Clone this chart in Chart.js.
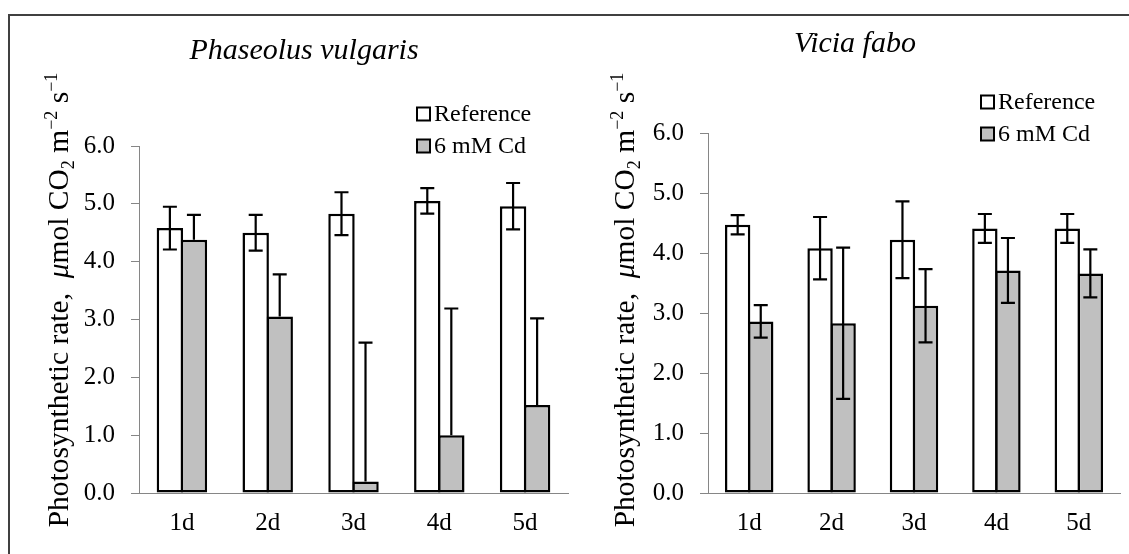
<!DOCTYPE html>
<html>
<head>
<meta charset="utf-8">
<script src="https://cdn.jsdelivr.net/npm/chart.js@4.4.0/dist/chart.umd.min.js"></script>
<style>
  body { margin: 0; background: #fff; }
  #wrap { position: relative; width: 1129px; height: 554px; overflow: hidden; background: #fff; }
  #frame { position: absolute; left: 8px; top: 14px; width: 1200px; height: 600px;
           border-top: 2px solid #404040; border-left: 2px solid #404040; }
  canvas { position: absolute; top: 0; }
</style>
</head>
<body>
<div id="wrap">
  <div id="frame"></div>
  <canvas id="graficoPhaseolus" width="572" height="554" style="left:0"></canvas>
  <canvas id="graficoVicia" width="565" height="554" style="left:564px"></canvas>
</div>
<script>
// valores
const dias = ['1d', '2d', '3d', '4d', '5d'];
const series = ['Reference', '6 mM Cd'];

const phaseolusRef = [4.58, 4.50, 4.83, 5.05, 4.96];
const phaseolusRefErr = [0.37, 0.31, 0.37, 0.22, 0.40];
const phaseolusCd = [4.38, 3.05, 0.20, 1.00, 1.52];
const phaseolusCdErr = [0.43, 0.73, 2.40, 2.19, 1.50];

const viciaRef = [4.47, 4.08, 4.22, 4.41, 4.41];
const viciaRefErr = [0.16, 0.52, 0.64, 0.24, 0.24];
const viciaCd = [2.86, 2.83, 3.12, 3.71, 3.66];
const viciaCdErr = [0.27, 1.26, 0.61, 0.54, 0.40];

const yMin = 0;
const yMax = 6;
const yPaso = 1;

const SERIF = "'Liberation Serif', 'Times New Roman', serif";

// titulo del eje y con subindices y superindices
const tituloEjeY = [
  { t: 'Photosynthetic rate,  ' },
  { t: 'μ', italic: true },
  { t: 'mol CO' },
  { t: '2', sub: true },
  { t: ' m' },
  { t: '−2', sup: true },
  { t: ' s' },
  { t: '−1', sup: true }
];

const errorBars = {
  id: 'errorBars',
  afterDatasetsDraw(chart) {
    const ctx = chart.ctx;
    const y = chart.scales.y;
    ctx.save();
    ctx.strokeStyle = '#000';
    ctx.lineWidth = 2.2;
    chart.data.datasets.forEach((ds, i) => {
      if (!ds.errores) return;
      const meta = chart.getDatasetMeta(i);
      meta.data.forEach((bar, j) => {
        const v = ds.data[j];
        const e = ds.errores[j];
        const arriba = y.getPixelForValue(v + e);
        const abajo = ds.soloPositivo ? y.getPixelForValue(v) : y.getPixelForValue(v - e);
        const x = bar.x;
        ctx.beginPath();
        ctx.moveTo(x, abajo);
        ctx.lineTo(x, arriba);
        ctx.moveTo(x - 7, arriba);
        ctx.lineTo(x + 7, arriba);
        if (!ds.soloPositivo) {
          ctx.moveTo(x - 7, abajo);
          ctx.lineTo(x + 7, abajo);
        }
        ctx.stroke();
      });
    });
    ctx.restore();
  }
};

const textos = {
  id: 'textos',
  afterDraw(chart, args, opts) {
    const ctx = chart.ctx;
    ctx.save();
    ctx.fillStyle = '#000';

    // titulo en cursiva
    ctx.font = 'italic 30px ' + SERIF;
    ctx.textAlign = 'center';
    ctx.textBaseline = 'alphabetic';
    ctx.fillText(opts.titulo, opts.tituloX, opts.tituloY);

    // titulo del eje y, rotado
    const size = 29.5;
    const fuente = (p) => {
      const s = (p.sub || p.sup) ? Math.round(size * 0.62) : size;
      return (p.italic ? 'italic ' : '') + s + 'px ' + SERIF;
    };
    let total = 0;
    tituloEjeY.forEach(p => { ctx.font = fuente(p); total += ctx.measureText(p.t).width; });
    ctx.translate(opts.ejeX, opts.ejeY);
    ctx.rotate(-Math.PI / 2);
    ctx.textAlign = 'left';
    let x = -total / 2;
    tituloEjeY.forEach(p => {
      ctx.font = fuente(p);
      const dy = p.sub ? size * 0.22 : (p.sup ? -size * 0.38 : 0);
      ctx.fillText(p.t, x, dy);
      x += ctx.measureText(p.t).width;
    });
    ctx.restore();

    // leyenda
    ctx.save();
    ctx.font = '24px ' + SERIF;
    ctx.textBaseline = 'middle';
    ctx.textAlign = 'left';
    chart.data.datasets.forEach((ds, i) => {
      const yy = opts.leyendaY + i * 32;
      ctx.fillStyle = ds.backgroundColor;
      ctx.fillRect(opts.leyendaX, yy - 6.5, 13, 13);
      ctx.strokeStyle = '#000';
      ctx.lineWidth = 2;
      ctx.strokeRect(opts.leyendaX, yy - 6.5, 13, 13);
      ctx.fillStyle = '#000';
      ctx.fillText(ds.label, opts.leyendaX + 17, yy + 1);
    });
    ctx.restore();
  }
};

function crearGrafico(id, ref, refErr, cd, cdErr, cdSoloPositivo, cfg) {
  const ctx = document.getElementById(id);
  return new Chart(ctx, {
    type: 'bar',
    data: {
      labels: dias,
      datasets: [{
        label: series[0],
        data: ref,
        errores: refErr,
        backgroundColor: '#ffffff',
        borderColor: '#000000',
        borderWidth: 2.5,
        borderSkipped: false
      }, {
        label: series[1],
        data: cd,
        errores: cdErr,
        soloPositivo: cdSoloPositivo,
        backgroundColor: '#c0c0c0',
        borderColor: '#000000',
        borderWidth: 2.5,
        borderSkipped: false
      }]
    },
    options: {
      responsive: false,
      animation: false,
      devicePixelRatio: 1,
      layout: { padding: { top: cfg.top, right: cfg.right, left: 0, bottom: 0 } },
      categoryPercentage: 0.56,
      barPercentage: 1.1,
      plugins: {
        legend: { display: false },
        tooltip: { enabled: false },
        textos: cfg.textos
      },
      scales: {
        x: {
          grid: { display: false, drawTicks: false },
          border: { color: '#868686', width: 1 },
          ticks: { color: '#000', font: { family: SERIF, size: 25 }, padding: 15 },
          afterFit: (s) => { s.height = 61; }
        },
        y: {
          min: yMin,
          max: yMax,
          grid: { drawOnChartArea: false, drawTicks: true, tickLength: 8, color: '#868686', lineWidth: 1 },
          border: { color: '#868686', width: 1 },
          ticks: {
            stepSize: yPaso,
            color: '#000',
            font: { family: SERIF, size: 25 },
            padding: 16,
            callback: v => v.toFixed(1)
          },
          afterFit: (s) => { s.width = cfg.ancho; }
        }
      }
    },
    plugins: [errorBars, textos]
  });
}

crearGrafico('graficoPhaseolus', phaseolusRef, phaseolusRefErr, phaseolusCd, phaseolusCdErr, true, {
  top: 146, right: 4, ancho: 139,
  textos: { titulo: 'Phaseolus vulgaris', tituloX: 304, tituloY: 59, ejeX: 68, ejeY: 300, leyendaX: 417, leyendaY: 114 }
});

crearGrafico('graficoVicia', viciaRef, viciaRefErr, viciaCd, viciaCdErr, false, {
  top: 133, right: 9, ancho: 144,
  textos: { titulo: 'Vicia fabo', tituloX: 291, tituloY: 52, ejeX: 70, ejeY: 300, leyendaX: 417, leyendaY: 102 }
});
</script>
</body>
</html>
